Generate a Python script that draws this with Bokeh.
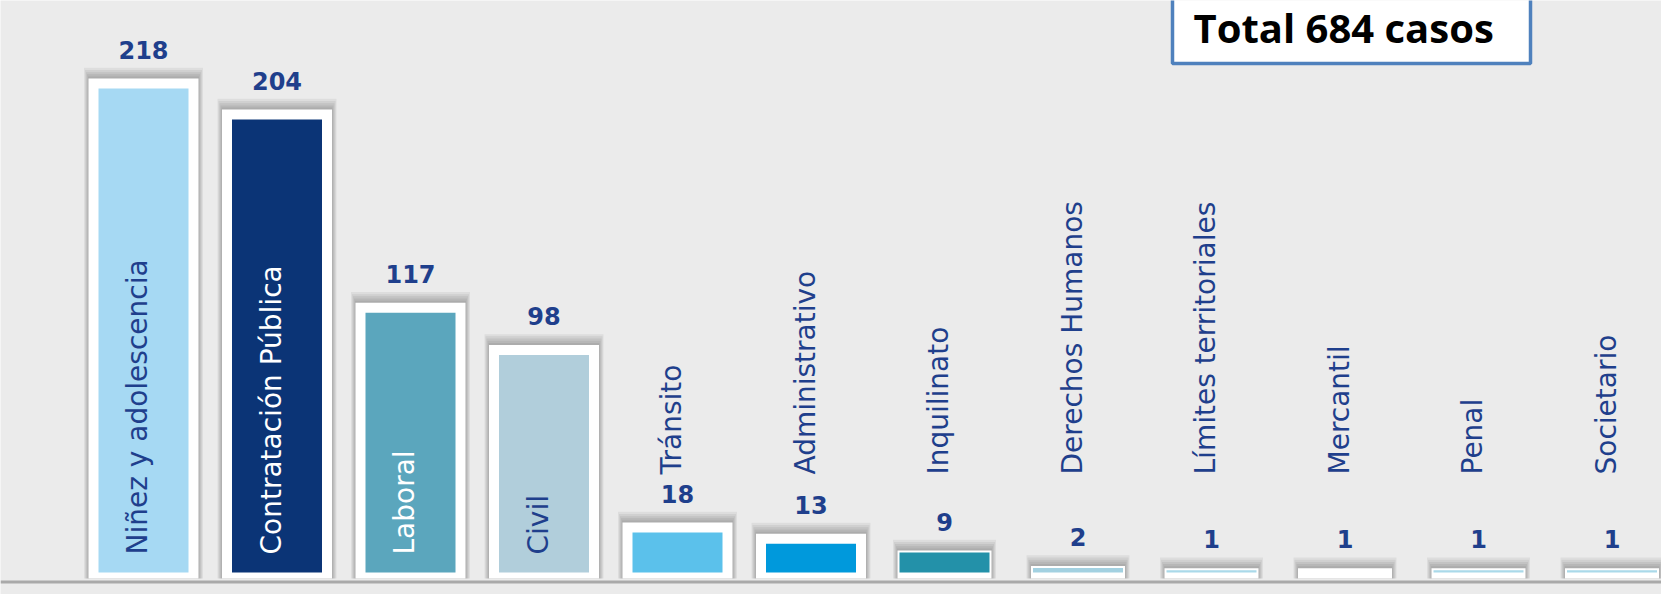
from math import pi
from bokeh.plotting import figure
from bokeh.models import ColumnDataSource, Range1d, Span, BoxAnnotation, Label
from bokeh.core.properties import value
from bokeh.embed import file_html
from bokeh.resources import INLINE

# ---------------- data ----------------
categories = ["Niñez y adolescencia", "Contratación Pública", "Laboral", "Civil",
              "Tránsito", "Administrativo", "Inquilinato", "Derechos Humanos",
              "Límites territoriales", "Mercantil", "Penal", "Societario"]
casos = [218, 204, 117, 98, 18, 13, 9, 2, 1, 1, 1, 1]
bar_colors = ["#a6d9f3", "#0b3476", "#5ba6bd", "#b1cedb", "#5bc1eb", "#0099dc",
              "#2391a9", "#a3d1e1", "#aad9e9", "#ffffff", "#aad9e9", "#aad9e9"]
label_colors = ["#1f3f8c", "#ffffff", "#ffffff", "#1f3f8c", "#1f3f8c", "#1f3f8c",
                "#1f3f8c", "#1f3f8c", "#1f3f8c", "#1f3f8c", "#1f3f8c", "#1f3f8c"]
total_text = "Total 684 casos"

# ---------------- layout ----------------
W, H = 1661, 594
STEP = 133.5          # px per category
FIRST = 143           # px of first bar centre inside plot
K = 2.22              # px per case
BASE = 572            # px from top of plot to zero line

x_start = -FIRST / STEP
x_end = x_start + W / STEP
y_end = BASE / K
y_start = y_end - H / K


def dx(px):
    return px / STEP


def dy(px):
    return px / K


BG = "#ebebeb"
TXT = "#1f3f8c"

p = figure(width=W, height=H, output_backend="svg", toolbar_location=None,
           x_range=Range1d(x_start, x_end), y_range=Range1d(y_start, y_end),
           min_border=0, background_fill_color=BG, border_fill_color=BG)
p.outline_line_color = None
p.xaxis.visible = False
p.yaxis.visible = False
p.xgrid.visible = False
p.ygrid.visible = False

xs = list(range(len(categories)))
pads = [10 if v >= 10 else 2 for v in casos]
fill_w = dx(90)
frame_w = [fill_w + dx(2 * pd) for pd in pads]
frame_top = [v + dy(pd) for v, pd in zip(casos, pads)]
frame_bottom = -dy(6)

# soft shadow (stacked translucent layers)
for j in range(5):
    p.vbar(x=xs, top=[t + dy(2 + 2.2 * j) for t in frame_top], bottom=frame_bottom,
           width=[w + dx(1 + 2 * j) for w in frame_w],
           fill_color="#000000", fill_alpha=0.06, line_color=None)

# white frames
p.vbar(x=xs, top=frame_top, bottom=frame_bottom, width=frame_w,
       fill_color="white", line_color=None)

# coloured bars
src = ColumnDataSource(dict(x=xs, top=casos, color=bar_colors))
p.vbar(x="x", top="top", bottom=0, width=fill_w, fill_color="color",
       line_color=None, source=src)

# baseline
p.add_layout(Span(location=-dy(9.5), dimension="width",
                  line_color="#a9a9a9", line_width=3))

# value labels
p.text(x=xs, y=[t + dy(29) for t in frame_top], text=[str(v) for v in casos],
       text_align="center", text_baseline="middle",
       text_font=value("DejaVu Sans"), text_font_style="bold",
       text_font_size="24px", text_color=TXT)

# category labels (vertical)
lab_src = ColumnDataSource(dict(
    x=[i - dx(6) for i in xs],
    y=[dy(18) if v > 50 else dy(98) for v in casos],
    text=categories, color=label_colors))
p.text(x="x", y="y", text="text", angle=pi / 2, source=lab_src,
       text_align="left", text_baseline="middle",
       text_font=value("DejaVu Sans"), text_font_size="28px",
       text_color="color")

# total box
p.add_layout(BoxAnnotation(left=x_start + dx(1172), right=x_start + dx(1530),
                           top=y_end + dy(20), bottom=y_end - dy(63),
                           fill_color="white", fill_alpha=1.0,
                           line_color="#4f81bd", line_alpha=1.0, line_width=3.5))
p.add_layout(Label(x=x_start + dx(1193), y=y_end - dy(27),
                   text=total_text, text_font="Open Sans", text_font_style="bold",
                   text_font_size="40px", text_align="left",
                   text_baseline="middle", text_color="black"))

open("out.html", "w").write(file_html(p, INLINE))
